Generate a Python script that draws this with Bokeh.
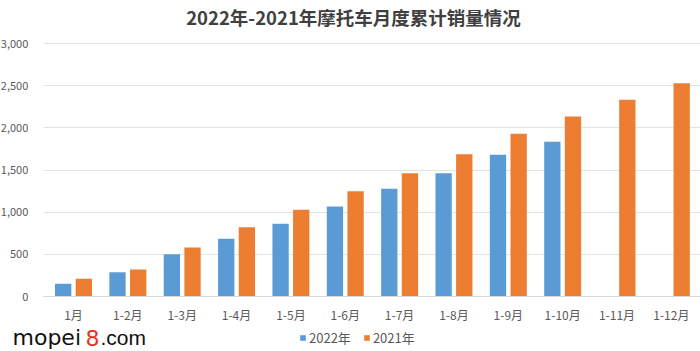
from bokeh.plotting import figure
from bokeh.models import ColumnDataSource, Range1d, NumeralTickFormatter, Legend, LegendItem, Label, FixedTicker
from bokeh.transform import dodge
from bokeh.embed import file_html
from bokeh.resources import INLINE

title_text = "2022年-2021年摩托车月度累计销量情况"
months = ["1月", "1-2月", "1-3月", "1-4月", "1-5月", "1-6月", "1-7月", "1-8月", "1-9月", "1-10月", "1-11月", "1-12月"]
sales_2022 = [150, 288, 502, 684, 862, 1068, 1277, 1463, 1681, 1835]
sales_2021 = [210, 320, 581, 822, 1028, 1249, 1463, 1688, 1930, 2135, 2333, 2530]
y_ticks = [0, 500, 1000, 1500, 2000, 2500, 3000]

FONT = "Noto Sans CJK SC"
BLUE = "#5b9bd5"
ORANGE = "#ed7d31"

idx = list(range(len(months)))
src22 = ColumnDataSource(dict(i=idx[:len(sales_2022)], v=sales_2022))
src21 = ColumnDataSource(dict(i=idx, v=sales_2021))

x_lo, x_hi = -1.343, 11.536
p = figure(width=700, height=351, output_backend="svg", toolbar_location=None,
           x_range=Range1d(x_lo, x_hi), y_range=Range1d(-652, 3510),
           min_border_left=0, min_border_right=0, min_border_top=0, min_border_bottom=0)
p.outline_line_color = None
p.background_fill_color = "white"
p.border_fill_color = "white"

r22 = p.vbar(x=dodge("i", -0.19), top="v", width=0.3, source=src22,
             fill_color=BLUE, line_color=None)
r21 = p.vbar(x=dodge("i", 0.19), top="v", width=0.3, source=src21,
             fill_color=ORANGE, line_color=None)

p.xgrid.grid_line_color = None
p.ygrid.grid_line_color = "#e3e3e3"
p.ygrid.ticker = FixedTicker(ticks=y_ticks)
p.ygrid.cross_bounds = (-0.56, x_hi)

p.yaxis.fixed_location = -0.5
p.yaxis.ticker = FixedTicker(ticks=y_ticks)
p.yaxis.formatter = NumeralTickFormatter(format="0,0")
p.yaxis.axis_line_color = None
p.yaxis.major_tick_line_color = None
p.yaxis.minor_tick_line_color = None
p.yaxis.major_label_text_font = FONT
p.yaxis.major_label_text_font_size = "11px"
p.yaxis.major_label_text_color = "#595959"
p.yaxis.major_label_standoff = 12

p.xaxis.fixed_location = 0
p.xaxis.bounds = (-0.56, x_hi)
p.xaxis.ticker = FixedTicker(ticks=idx)
p.xaxis.major_label_overrides = {i: m for i, m in zip(idx, months)}
p.xaxis.axis_line_color = "#d9d9d9"
p.xaxis.major_tick_line_color = None
p.xaxis.minor_tick_line_color = None
p.xaxis.major_label_text_font = FONT
p.xaxis.major_label_text_font_size = "12px"
p.xaxis.major_label_text_color = "#595959"
p.xaxis.major_label_standoff = 3

title = Label(x=353, y=335, x_units="screen", y_units="screen", text=title_text,
              text_align="center", text_baseline="middle", text_font=FONT,
              text_font_size="18.5px", text_font_style="bold", text_color="#404040")
p.add_layout(title)

legend = Legend(items=[LegendItem(label="2022年", renderers=[r22]),
                       LegendItem(label="2021年", renderers=[r21])],
                orientation="horizontal", location=(299, 4),
                label_text_font=FONT, label_text_font_size="13px", label_text_color="#595959",
                glyph_width=7, glyph_height=7, spacing=12, padding=2, margin=0,
                label_standoff=3,
                border_line_color=None, background_fill_alpha=0)
p.add_layout(legend, "center")

wm1 = Label(x=12, y=14, x_units="screen", y_units="screen", text="mopei", text_baseline="alphabetic",
            text_font="DejaVu Sans", text_font_size="22px", text_color="#111111")
wm2 = Label(x=85, y=14, x_units="screen", y_units="screen", text="8", text_baseline="alphabetic",
            text_font="DejaVu Sans", text_font_size="22px", text_color="#e53222")
wm3 = Label(x=100, y=14, x_units="screen", y_units="screen", text=".com", text_baseline="alphabetic",
            text_font="Liberation Sans", text_font_size="21px", text_color="#111111")
for w in (wm1, wm2, wm3):
    p.add_layout(w)

open("out.html", "w").write(file_html(p, INLINE))
